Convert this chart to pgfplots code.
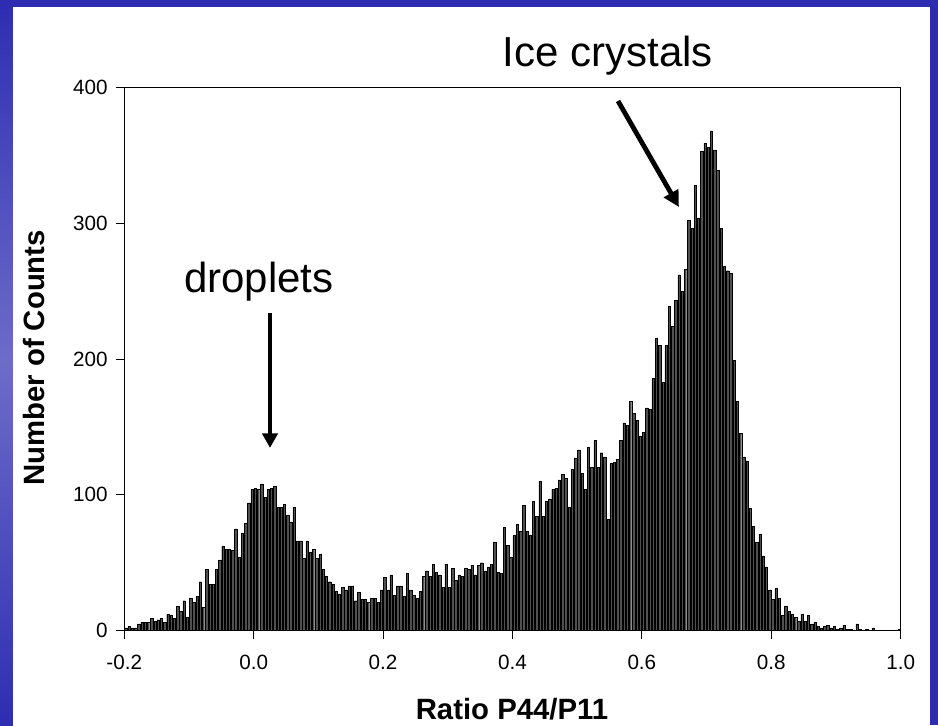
\documentclass[border=0pt]{standalone}
\usepackage{pgfplots}
\pgfplotsset{compat=1.18}
\usepackage{fontspec}
\setmainfont{Liberation Sans}
\usetikzlibrary{arrows.meta}
\definecolor{slideblue}{HTML}{2E2DB2}
\definecolor{bargray}{HTML}{505050}
\begin{document}
\begin{tikzpicture}
\fill[white] (-93.2pt,-70.8pt) rectangle (610.3pt,472.95pt);
\shade[top color=slideblue, bottom color=slideblue, middle color=slideblue!70!white] (-93.2pt,-70.8pt) rectangle (-83.45pt,472.95pt);
\fill[slideblue] (-93.2pt,467.7pt) rectangle (610.3pt,472.95pt);
\fill[slideblue] (604.3pt,-70.8pt) rectangle (610.3pt,472.95pt);
\begin{axis}[
  at={(0pt,0pt)}, anchor=south west,
  scale only axis, width=582.3pt, height=407.4pt,
  xmin=-0.2, xmax=1.0, ymin=0, ymax=400,
  xtick={-0.2,0,0.2,0.4,0.6,0.8,1.0},
  xticklabels={-0.2,0.0,0.2,0.4,0.6,0.8,1.0},
  ytick={0,100,200,300,400},
  yticklabels={0,100,200,300,400},
  tick align=outside, major tick length=6pt, tick pos=left,
  axis line style={line width=0.75pt},
  every tick/.style={black, line width=0.75pt},
  tick label style={font=\fontsize{15.5}{18}\selectfont},
  xticklabel style={yshift=-9pt},
  yticklabel style={xshift=-3pt},
  ybar, bar width=0.0037,
]
\addplot[fill=bargray, draw=black, line width=0.3pt] coordinates {
(-0.1975,2) (-0.1925,3) (-0.1875,2) (-0.1825,2) (-0.1775,5) (-0.1725,6) (-0.1675,6) (-0.1625,6) (-0.1575,9) (-0.1525,7)
(-0.1475,8) (-0.1425,9) (-0.1375,6) (-0.1325,12) (-0.1275,11) (-0.1225,9) (-0.1175,18) (-0.1125,14) (-0.1075,22) (-0.1025,10)
(-0.0975,24) (-0.0925,21) (-0.0875,25) (-0.0825,36) (-0.0775,17) (-0.0725,45) (-0.0675,34) (-0.0625,34) (-0.0575,45) (-0.0525,52)
(-0.0475,62) (-0.0425,60) (-0.0375,60) (-0.0325,59) (-0.0275,75) (-0.0225,54) (-0.0175,72) (-0.0125,79) (-0.0075,94) (-0.0025,104)
(0.0025,105) (0.0075,104) (0.0125,108) (0.0175,98) (0.0225,104) (0.0275,105) (0.0325,106) (0.0375,91) (0.0425,91) (0.0475,93)
(0.0525,85) (0.0575,80) (0.0625,91) (0.0675,66) (0.0725,66) (0.0775,53) (0.0825,66) (0.0875,58) (0.0925,60) (0.0975,53)
(0.1025,56) (0.1075,45) (0.1125,40) (0.1175,36) (0.1225,34) (0.1275,29) (0.1325,27) (0.1375,32) (0.1425,30) (0.1475,33)
(0.1525,33) (0.1575,22) (0.1625,28) (0.1675,23) (0.1725,23) (0.1775,21) (0.1825,24) (0.1875,24) (0.1925,21) (0.1975,30)
(0.2025,39) (0.2075,30) (0.2125,41) (0.2175,26) (0.2225,33) (0.2275,33) (0.2325,25) (0.2375,42) (0.2425,30) (0.2475,26)
(0.2525,24) (0.2575,29) (0.2625,40) (0.2675,44) (0.2725,40) (0.2775,49) (0.2825,43) (0.2875,41) (0.2925,32) (0.2975,49)
(0.3025,32) (0.3075,46) (0.3125,37) (0.3175,41) (0.3225,40) (0.3275,46) (0.3325,45) (0.3375,48) (0.3425,41) (0.3475,48)
(0.3525,50) (0.3575,44) (0.3625,47) (0.3675,49) (0.3725,65) (0.3775,43) (0.3825,42) (0.3875,76) (0.3925,63) (0.3975,54)
(0.4025,70) (0.4075,78) (0.4125,73) (0.4175,92) (0.4225,73) (0.4275,70) (0.4325,95) (0.4375,84) (0.4425,110) (0.4475,84)
(0.4525,95) (0.4575,97) (0.4625,104) (0.4675,105) (0.4725,111) (0.4775,115) (0.4825,112) (0.4875,91) (0.4925,119) (0.4975,127)
(0.5025,133) (0.5075,116) (0.5125,104) (0.5175,135) (0.5225,120) (0.5275,140) (0.5325,120) (0.5375,131) (0.5425,128) (0.5475,82)
(0.5525,123) (0.5575,124) (0.5625,126) (0.5675,140) (0.5725,153) (0.5775,151) (0.5825,169) (0.5875,160) (0.5925,155) (0.5975,143)
(0.6025,146) (0.6075,164) (0.6125,163) (0.6175,186) (0.6225,215) (0.6275,210) (0.6325,183) (0.6375,210) (0.6425,239) (0.6475,224)
(0.6525,243) (0.6575,262) (0.6625,250) (0.6675,266) (0.6725,302) (0.6775,296) (0.6825,328) (0.6875,304) (0.6925,353) (0.6975,359)
(0.7025,356) (0.7075,368) (0.7125,354) (0.7175,339) (0.7225,296) (0.7275,268) (0.7325,265) (0.7375,263) (0.7425,199) (0.7475,169)
(0.7525,145) (0.7575,128) (0.7625,125) (0.7675,90) (0.7725,77) (0.7775,65) (0.7825,71) (0.7875,55) (0.7925,47) (0.7975,30)
(0.8025,23) (0.8075,31) (0.8125,24) (0.8175,11) (0.8225,18) (0.8275,14) (0.8325,12) (0.8375,10) (0.8425,7) (0.8475,12)
(0.8525,7) (0.8575,11) (0.8625,5) (0.8675,6) (0.8725,3) (0.8775,2) (0.8825,3) (0.8875,4) (0.8925,2) (0.8975,3)
(0.9025,1) (0.9075,2) (0.9125,4) (0.9175,1) (0.9225,1) (0.9275,0) (0.9325,5) (0.9375,1) (0.9425,0) (0.9475,1)
(0.9525,0) (0.9575,2) (0.9625,0) (0.9675,0) (0.9725,0) (0.9775,0) (0.9825,0) (0.9875,0) (0.9925,0) (0.9975,1)
};
\end{axis}
\node[anchor=base, font=\fontsize{31.5}{36}\selectfont] at (362.8pt,422.9pt) {Ice crystals};
\node[anchor=base, font=\fontsize{31.5}{36}\selectfont] at (100.9pt,253.4pt) {droplets};
\draw[line width=3.6pt, -{Triangle[length=11pt,width=11.5pt]}] (109.3pt,238.2pt) -- (109.3pt,137.0pt);
\draw[line width=3.6pt, -{Triangle[length=12pt,width=12pt]}] (370.3pt,397.2pt) -- (416.0pt,317.7pt);
\node[anchor=base, inner sep=0pt, font=\fontsize{22}{26}\selectfont\bfseries] at (290.8pt,-66.5pt) {Ratio P44/P11};
\node[rotate=90, font=\fontsize{22}{26}\selectfont\bfseries] at (-67.7pt,204.5pt) {Number of Counts};
\pgfresetboundingbox
\useasboundingbox (-93.2pt,-70.8pt) rectangle (610.3pt,472.95pt);
\end{tikzpicture}
\end{document}
